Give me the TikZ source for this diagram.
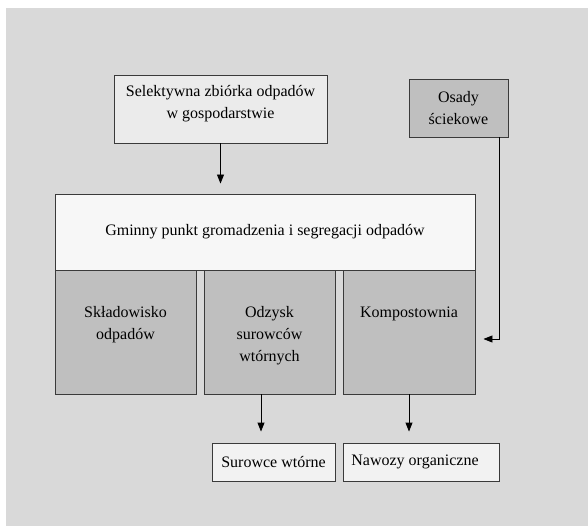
\documentclass[tikz,border=0pt]{standalone}
\usepackage{fontspec}
\setmainfont{Liberation Serif}
\usetikzlibrary{arrows.meta,calc}
\definecolor{bggray}{HTML}{D9D9D9}
\definecolor{darkbox}{HTML}{BFBFBF}
\definecolor{lightbox}{HTML}{EBEBEB}
\definecolor{whitebox}{HTML}{F7F7F7}
\definecolor{outbox}{HTML}{F2F2F2}
\definecolor{edge}{HTML}{3A3A3A}
\begin{document}
\begin{tikzpicture}[x=1pt,y=-1pt,
  every node/.style={font=\fontsize{16}{22}\selectfont},
  box/.style={draw=edge,line width=0.9pt,inner sep=0pt,align=center},
  arr/.style={draw=black,line width=0.9pt,-{Triangle[length=9pt,width=7pt]}},
  plain/.style={align=center,inner sep=0pt},
  toplabel/.style={anchor=north,align=center,inner sep=0pt}]
\useasboundingbox (0,0) rectangle (588,526);
\fill[bggray] (6,8) rectangle (588,526);
% top boxes
\node[box,fill=lightbox,minimum width=213pt,minimum height=68pt] (sel) at (220.5,109) {};
\node[plain] (selt) at ($(sel.center)+(0,-5)$) {Selektywna zbiórka odpadów\\w gospodarstwie};
\node[box,fill=darkbox,minimum width=99pt,minimum height=58pt] (osady) at (458.5,108)
  {Osady\\ściekowe};
% main box
\node[box,fill=whitebox,minimum width=420pt,minimum height=76pt] (gminny) at (265,232)
  {Gminny punkt gromadzenia i segregacji odpadów};
% lower boxes
\node[box,fill=darkbox,minimum width=141pt,minimum height=124pt] (skl) at (125.5,332) {};
\node[box,fill=darkbox,minimum width=131pt,minimum height=124pt] (odz) at (269.5,332) {};
\node[box,fill=darkbox,minimum width=132pt,minimum height=124pt] (komp) at (409,332) {};
\node[toplabel] (sklt) at ($(skl.north)+(0,37)$) {Składowisko\\odpadów};
\node[toplabel] (odzt) at ($(odz.north)+(0,37)$) {Odzysk\\surowców\\wtórnych};
\node[toplabel] (kompt) at ($(komp.north)+(0,37)$) {Kompostownia};
% outputs
\node[box,fill=outbox,minimum width=123pt,minimum height=38pt] (sur) at (273.5,462) {Surowce wtórne};
\node[box,fill=outbox,minimum width=156pt,minimum height=38pt] (naw) at (421,462) {Nawozy organiczne\hspace*{12pt}};
% connectors
\draw[arr,shorten >=10pt] (sel.south) -- (sel.south |- gminny.north);
\coordinate (ostart) at ($(osady.south east)+(-9,0)$);
\coordinate (oend) at ($(komp.east)+(8,7)$);
\draw[arr] (ostart) |- (oend);
\coordinate (odzb) at ($(odz.south)+(-8.5,0)$);
\draw[arr,shorten >=11pt] (odzb) -- (odzb |- sur.north);
\draw[arr,shorten >=11pt] (komp.south) -- (komp.south |- naw.north);
\end{tikzpicture}
\end{document}
